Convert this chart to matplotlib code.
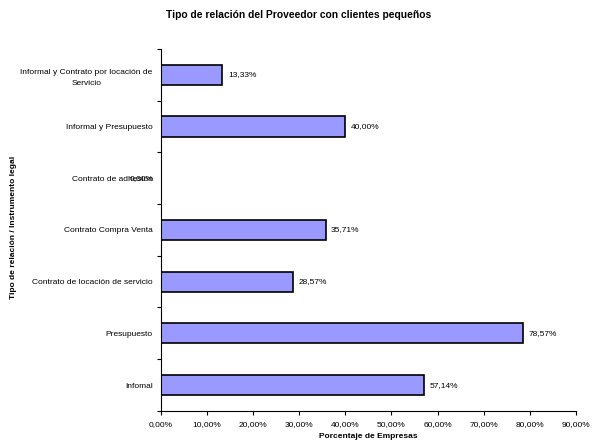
import matplotlib.pyplot as plt
import numpy as np

plt.rcParams['font.family'] = ['Liberation Sans', 'DejaVu Sans']

# categories from top to bottom, and their share of companies (%)
categorias = ['Informal y Contrato por locación de\nServicio',
              'Informal y Presupuesto',
              'Contrato de adhesión',
              'Contrato Compra Venta',
              'Contrato de locación de servicio',
              'Presupuesto',
              'Infomal']
porcentajes = [13.33, 40.00, 0.00, 35.71, 28.57, 78.57, 57.14]
x_ticks = [0, 10, 20, 30, 40, 50, 60, 70, 80, 90]

fig = plt.figure(figsize=(5.93, 4.4), dpi=100)
ax = fig.add_axes([0.2715, 0.066, 0.6995, 0.823])

y = np.arange(len(categorias))[::-1]
ax.barh(y, porcentajes, height=0.39, color='#9999FF', edgecolor='black', linewidth=1.2)

# value labels next to each bar (the empty one sits left of the axis)
for yi, v in zip(y, porcentajes):
    txt = f'{v:.2f}'.replace('.', ',') + '%'
    if v == 0:
        ax.annotate(txt, (v, yi), xytext=(-5, 0), textcoords='offset points',
                    va='center', ha='right', fontsize=6)
    else:
        ax.annotate(txt, (v, yi), xytext=(4, 0), textcoords='offset points',
                    va='center', ha='left', fontsize=6)

ax.set_xlim(0, 90)
ax.set_ylim(-0.5, len(categorias) - 0.5)
ax.set_xticks(x_ticks)
ax.set_xticklabels([f'{t:.2f}'.replace('.', ',') + '%' for t in x_ticks], fontsize=6)
ax.set_yticks(y)
ax.set_yticklabels(categorias, fontsize=6, multialignment='center', linespacing=1.9)
ax.set_yticks(np.arange(len(categorias) + 1) - 0.5, minor=True)
ax.tick_params(axis='y', which='major', length=0, pad=6)
ax.tick_params(axis='y', which='minor', length=3, width=0.8)
ax.tick_params(axis='x', length=3, width=0.8, pad=4)

for s in ['top', 'right']:
    ax.spines[s].set_visible(False)
ax.spines['left'].set_linewidth(0.8)
ax.spines['bottom'].set_linewidth(0.8)

ax.set_xlabel('Porcentaje de Empresas', fontsize=6, fontweight='bold', labelpad=3.5)
fig.text(0.022, 0.482, 'Tipo de relación / Instrumento legal', rotation=90,
         fontsize=6, fontweight='bold', va='center', ha='center')
fig.text(0.504, 0.965, 'Tipo de relación del Proveedor con clientes pequeños',
         fontsize=7.4, fontweight='bold', ha='center', va='center')

fig.savefig('out.png', dpi=100)
